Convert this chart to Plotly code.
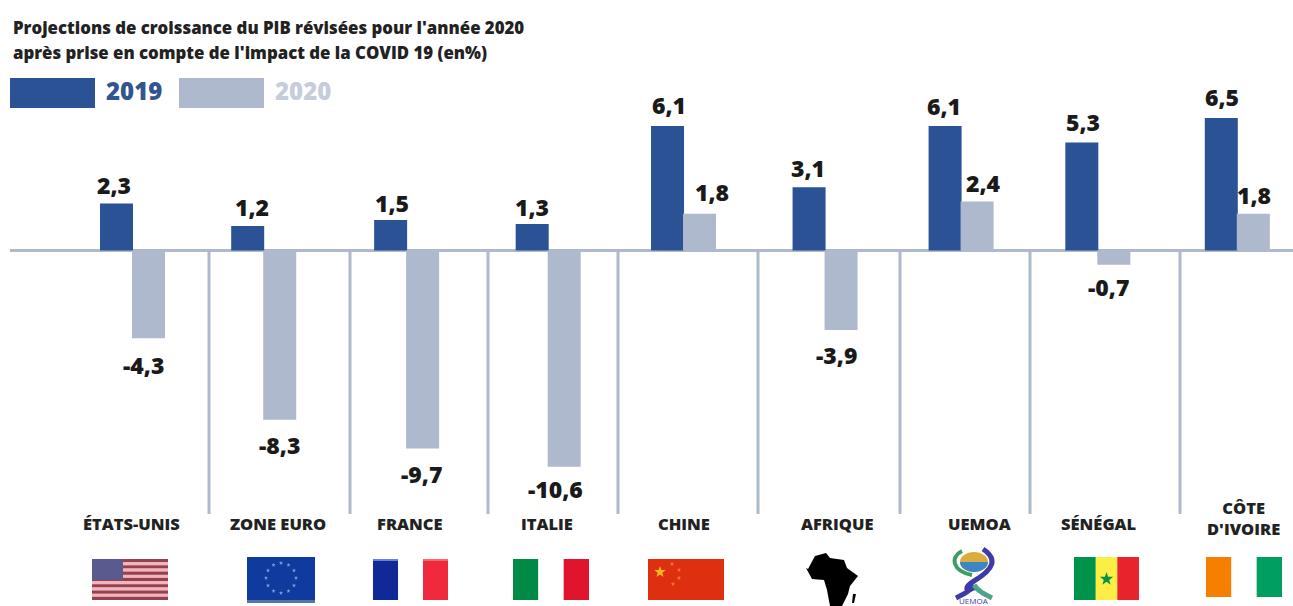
import base64
import math
import plotly.graph_objects as go

W, H = 1293, 606

title_lines = ["Projections de croissance du PIB révisées pour l'année 2020",
               "après prise en compte de l'impact de la COVID 19 (en%)"]
categories = ["ÉTATS-UNIS", "ZONE EURO", "FRANCE", "ITALIE", "CHINE", "AFRIQUE", "UEMOA", "SÉNÉGAL", "CÔTE<br>D'IVOIRE"]
series_names = ["2019", "2020"]
values_2019 = [2.3, 1.2, 1.5, 1.3, 6.1, 3.1, 6.1, 5.3, 6.5]
values_2020 = [-4.3, -8.3, -9.7, -10.6, 1.8, -3.9, 2.4, -0.7, 1.8]

# layout-only constants
BLUE, GREY = "#2b5295", "#aeb9cd"
group_slots = [0, 0.95, 1.985, 3.01, 3.99, 5.015, 6, 6.99, 8]
SLOT_PX, ZERO_X = 138.1, 132
PX_PER_UNIT, ZERO_Y = 20.4, 250.5
BAR_W = 33 / SLOT_PX
FONT = "Open Sans"
# nudges (px) of the value labels, relative to their bar end
nudge_2019 = [(-2, -19), (5, -19), (2, -17), (1, -17), (2, -21), (0, -19), (0, -20), (2, -20), (2, -21)]
nudge_2020 = [(-5, 27), (0, 25), (-1, 26), (-9, 22), (12, -22), (-5, 25), (6, -19), (-5, 22), (1, -19)]
label_px = [131, 278, 410, 547, 684, 837, 979, 1098, 1243]
label_bottom_px = [537, 537, 537, 537, 537, 537, 537, 537, 542]
divider_px = [209, 350, 488, 618, 758, 900, 1030, 1180]


def px(x):
    return (x - 10) / (W - 10)


def py(y):
    return 1 - y / H


def svg(w, h, body):
    s = f'<svg xmlns="http://www.w3.org/2000/svg" width="{w}" height="{h}" viewBox="0 0 {w} {h}" preserveAspectRatio="none">{body}</svg>'
    return "data:image/svg+xml;base64," + base64.b64encode(s.encode()).decode()


def star(cx, cy, r, fill):
    pts = []
    for k in range(10):
        a = -math.pi / 2 + k * math.pi / 5
        rr = r if k % 2 == 0 else r * 0.4
        pts.append(f"{cx + rr * math.cos(a):.1f},{cy + rr * math.sin(a):.1f}")
    return f'<polygon points="{" ".join(pts)}" fill="{fill}"/>'


def stripes(w, h):
    out = ""
    n = 13
    for k in range(n):
        c = "#93404f" if k % 2 == 0 else "#f3b4bd"
        out += f'<rect x="0" y="{k * h / n:.2f}" width="{w}" height="{h / n + .2:.2f}" fill="{c}"/>'
    return out


def vbands(w, h, cols):
    n = len(cols)
    return "".join(f'<rect x="{i * w / n:.2f}" y="0" width="{w / n + .2:.2f}" height="{h}" fill="{c}"/>' for i, c in enumerate(cols))


us = svg(76, 41, stripes(76, 41) + '<rect width="31" height="21" fill="#5a5a8e"/>')
eu_stars = "".join(star(34 + 15 * math.sin(k * math.pi / 6), 21 - 15 * math.cos(k * math.pi / 6), 2.2, "#7fa0dc") for k in range(12))
eu = svg(68, 46, '<rect width="68" height="46" fill="#0f3a9e"/><rect y="43" width="68" height="3" fill="#5577a8"/>' + eu_stars)
fr = svg(75, 41, vbands(75, 41, ["#0f2a96", "#ffffff", "#ee2a3c"]) + '<rect width="25" height="2" fill="#6d80d8"/><rect x="50" width="25" height="2" fill="#f9656f"/>')
it = svg(76, 41, vbands(76, 41, ["#008a45", "#ffffff", "#e0142d"]))
cn_small = "".join(star(x, y, 2.4, "#f7782a") for x, y in [(24, 5), (31, 11), (31, 19), (25, 25)])
cn = svg(76, 41, '<rect width="76" height="41" fill="#de2f10"/>' + star(12, 13, 6, "#f9b81a") + cn_small)
africa = svg(52, 53, '<path fill="#000" d="M2 16 L9 3 L20 0 L24 5 L38 7 L41 15 L52 23 L44 33 L42 41 L36 53 L24 53 L21 37 L18 27 L6 26 L0 15 Z"/><path fill="#000" d="M47 41 L50 41 L48 50 L46 50 Z"/>')
uemoa = svg(48, 61, '<ellipse cx="24" cy="17" rx="14" ry="10" fill="#d9ad3c"/><path d="M10 17 A14 10 0 0 0 38 17 Z" fill="#3d86c6"/>'
            '<path d="M12 6 C0 12 2 26 22 30" fill="none" stroke="#3f9d63" stroke-width="4"/>'
            '<path d="M33 4 C48 14 44 24 24 36 C14 42 14 48 26 42" fill="none" stroke="#3e3aa6" stroke-width="5"/>'
            '<path d="M24 40 C20 46 14 49 6 53" fill="none" stroke="#3e3aa6" stroke-width="5"/>'
            '<path d="M24 40 C28 46 34 49 42 53" fill="none" stroke="#4aa58b" stroke-width="5"/>')
sn = svg(65, 43, vbands(65, 43, ["#00934c", "#fdee45", "#e8232c"]) + star(32.5, 22, 7, "#00934c"))
ci = svg(76, 40, vbands(76, 40, ["#f77f00", "#ffffff", "#009e60"]))

flag_boxes = [(us, 92, 559, 76, 41), (eu, 247, 557, 68, 46), (fr, 373, 559, 75, 41), (it, 513, 559, 76, 41),
              (cn, 648, 559, 76, 41), (africa, 806, 553, 52, 53), (uemoa, 950, 545, 48, 61),
              (sn, 1074, 557, 65, 43), (ci, 1206, 557, 76, 40)]

fig = go.Figure()
fig.add_bar(x=group_slots, y=values_2019, width=BAR_W, offset=-BAR_W + 1 / SLOT_PX, name=series_names[0], marker_color=BLUE, marker_line_width=0)
fig.add_bar(x=group_slots, y=values_2020, width=BAR_W, offset=0, name=series_names[1], marker_color=GREY, marker_line_width=0)

ann = []


def value_label(x, v, nudge):
    ann.append(dict(x=x, y=v, xref="x", yref="y", xshift=nudge[0], yshift=-nudge[1],
                    text=f"{v:.1f}".replace(".", ","), showarrow=False, xanchor="center", yanchor="middle",
                    font=dict(family=FONT, size=23, color="#1a1a1a", weight=800)))


for i, s in enumerate(group_slots):
    value_label(s - BAR_W / 2, values_2019[i], nudge_2019[i])
    value_label(s + BAR_W / 2, values_2020[i], nudge_2020[i])
    ann.append(dict(x=px(label_px[i]), y=py(label_bottom_px[i]), xref="paper", yref="paper", text=categories[i], showarrow=False,
                    xanchor="center", yanchor="bottom", align="center",
                    font=dict(family=FONT, size=16.5, color="#222222", weight=800)))

for t, y in zip(title_lines, [27, 52]):
    ann.append(dict(x=px(11), y=py(y), xref="paper", yref="paper", text=t, showarrow=False, xanchor="left", yanchor="middle",
                    font=dict(family=FONT, size=16.8, color="#222222", weight=800)))
for t, x, c in zip(series_names, [104, 273], ["#33558f", "#c6cdda"]):
    ann.append(dict(x=px(x), y=py(91), xref="paper", yref="paper", text=t, showarrow=False, xanchor="left", yanchor="middle",
                    font=dict(family=FONT, size=24, color=c, weight=800)))
ann.append(dict(x=px(974), y=py(600), xref="paper", yref="paper", text="UEMOA", showarrow=False, xanchor="center", yanchor="middle",
                font=dict(family=FONT, size=8, color="#3e3aa6")))

shapes = [dict(type="line", xref="paper", yref="y", x0=0, x1=1, y0=0, y1=0, line=dict(color=GREY, width=3), layer="below")]
for d in divider_px:
    shapes.append(dict(type="line", xref="paper", yref="paper", x0=px(d), x1=px(d), y0=py(250), y1=py(514),
                       line=dict(color=GREY, width=3), layer="below"))
for (x0, x1), c in zip([(10, 95), (179, 264)], [BLUE, GREY]):
    shapes.append(dict(type="rect", xref="paper", yref="paper", x0=px(x0), x1=px(x1), y0=py(78), y1=py(108),
                       line_width=0, fillcolor=c))

images = [dict(source=src, xref="paper", yref="paper", x=px(x), y=py(y), sizex=w / (W - 10), sizey=h / H,
               xanchor="left", yanchor="top", sizing="stretch", layer="above")
          for src, x, y, w, h in flag_boxes]

fig.update_layout(
    width=W, height=H, margin=dict(l=10, r=0, t=0, b=0), paper_bgcolor="white", plot_bgcolor="white",
    showlegend=False, barmode="overlay", annotations=ann, shapes=shapes, images=images,
    xaxis=dict(range=[(10 - ZERO_X) / SLOT_PX, (W - ZERO_X) / SLOT_PX], visible=False, fixedrange=True),
    yaxis=dict(range=[-(H - ZERO_Y) / PX_PER_UNIT, ZERO_Y / PX_PER_UNIT], visible=False, fixedrange=True, zeroline=False),
)
fig.write_html("out.html", post_script="document.body.style.margin='0';", config=dict(displayModeBar=False))
